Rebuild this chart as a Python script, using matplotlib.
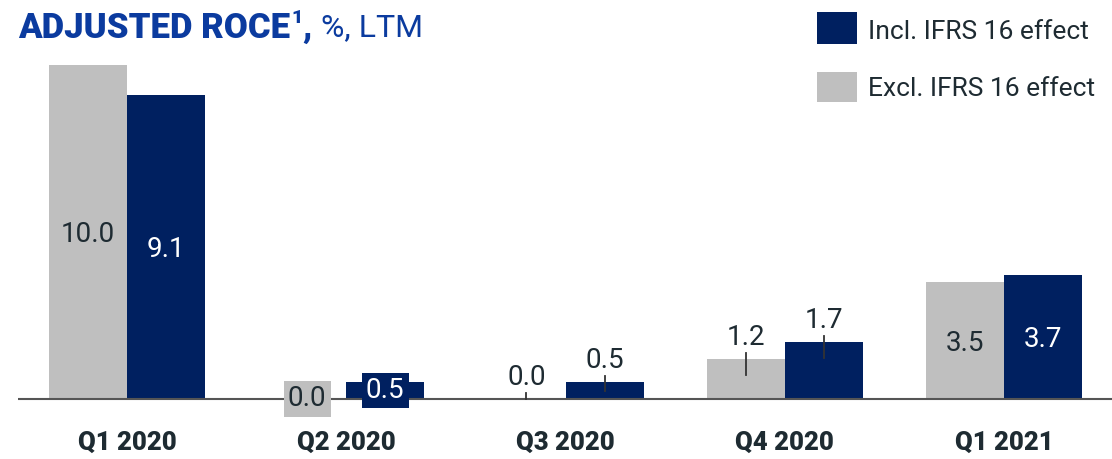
import matplotlib
matplotlib.use('Agg')
import matplotlib.pyplot as plt
from matplotlib.patches import Rectangle

plt.rcParams['font.family'] = ['Roboto', 'DejaVu Sans']

quarters = ['Q1 2020', 'Q2 2020', 'Q3 2020', 'Q4 2020', 'Q1 2021']
excl_ifrs = [10.0, 0.0, 0.0, 1.2, 3.5]
incl_ifrs = [9.1, 0.5, 0.5, 1.7, 3.7]
# where each value label sits: inside the bar, boxed on the bar, or above with a leader
excl_mode = ['in', 'box', 'out', 'out', 'in']
incl_mode = ['in', 'box', 'out', 'out', 'in']

navy = '#002060'
grey = '#bfbfbf'
dark = '#1e2b32'
blue = '#0b3b9f'

W, H = 1112, 459
fig = plt.figure(figsize=(W / 100, H / 100), dpi=100)
ax = fig.add_axes([18 / W, 0, (W - 18) / W, 1])

px = 33.4   # pixels per % point
base = 399
ax.set_ylim(-(H - base) / px, base / px)
ax.set_xlim(-(127 - 18) / 219.25, 4 + (W - 1004) / 219.25)
ax.axis('off')

bw = 0.356
x = range(len(quarters))
xg = [i - bw / 2 for i in x]
xn = [i + bw / 2 for i in x]
ax.bar(xg, excl_ifrs, width=bw, color=grey, zorder=2)
ax.bar(xn, incl_ifrs, width=bw, color=navy, zorder=2)
ax.axhline(0, color='#555555', lw=1.5, zorder=3)


def label(xpos, val, mode, fc, tc):
    txt = f'{val:.1f}'
    if mode == 'in':
        ax.text(xpos, val / 2 - 0.08, txt, ha='center', va='center', color=tc,
                fontsize=20, zorder=5)
    elif mode == 'box':
        ax.text(xpos, val / 2, txt, ha='center', va='center', color=tc,
                fontsize=20, zorder=5,
                bbox=dict(boxstyle='square,pad=0.15', fc=fc, ec='none'))
    else:
        ax.text(xpos, val + 0.64, txt, ha='center', va='center', color=dark,
                fontsize=20, zorder=5)
        lo = max(val - 0.48, 0) if val > 0.6 else max(val - 0.25, 0)
        ax.plot([xpos, xpos], [lo, val + 0.18], color='#333333', lw=1.3, zorder=4)


for i in x:
    label(xg[i], excl_ifrs[i], excl_mode[i], grey, dark)
    label(xn[i], incl_ifrs[i], incl_mode[i], navy, 'white')
    ax.text(i, -(443 - base) / px, quarters[i], ha='center', va='center',
            color=dark, fontsize=18.5, fontweight='heavy')

# title
r = fig.canvas.get_renderer()
t1 = fig.text(18 / W, 1 - 28 / H, 'ADJUSTED ROCE', color=blue, fontsize=25,
              fontweight='heavy', va='center', ha='left')
bb = t1.get_window_extent(r)
t2 = fig.text(bb.x1 / W + 1 / W, 1 - 18 / H, '1', color=blue, fontsize=14,
              fontweight='heavy', va='center', ha='left')
bb = t2.get_window_extent(r)
t3 = fig.text(bb.x1 / W, 1 - 28 / H, ',', color=blue, fontsize=25,
              fontweight='heavy', va='center', ha='left')
bb = t3.get_window_extent(r)
fig.text(bb.x1 / W + 9 / W, 1 - 28 / H, '%, LTM', color=blue, fontsize=23,
         va='center', ha='left')

# legend
fig.add_artist(Rectangle((817 / W, 1 - 44 / H), 40 / W, 32 / H,
                         transform=fig.transFigure, fc=navy, ec='none'))
fig.add_artist(Rectangle((817 / W, 1 - 102 / H), 40 / W, 30 / H,
                         transform=fig.transFigure, fc=grey, ec='none'))
fig.text(868 / W, 1 - 32 / H, 'Incl. IFRS 16 effect', color=dark, fontsize=19,
         va='center', ha='left')
fig.text(868 / W, 1 - 89 / H, 'Excl. IFRS 16 effect', color=dark, fontsize=19,
         va='center', ha='left')

fig.savefig('out.png', dpi=100)
